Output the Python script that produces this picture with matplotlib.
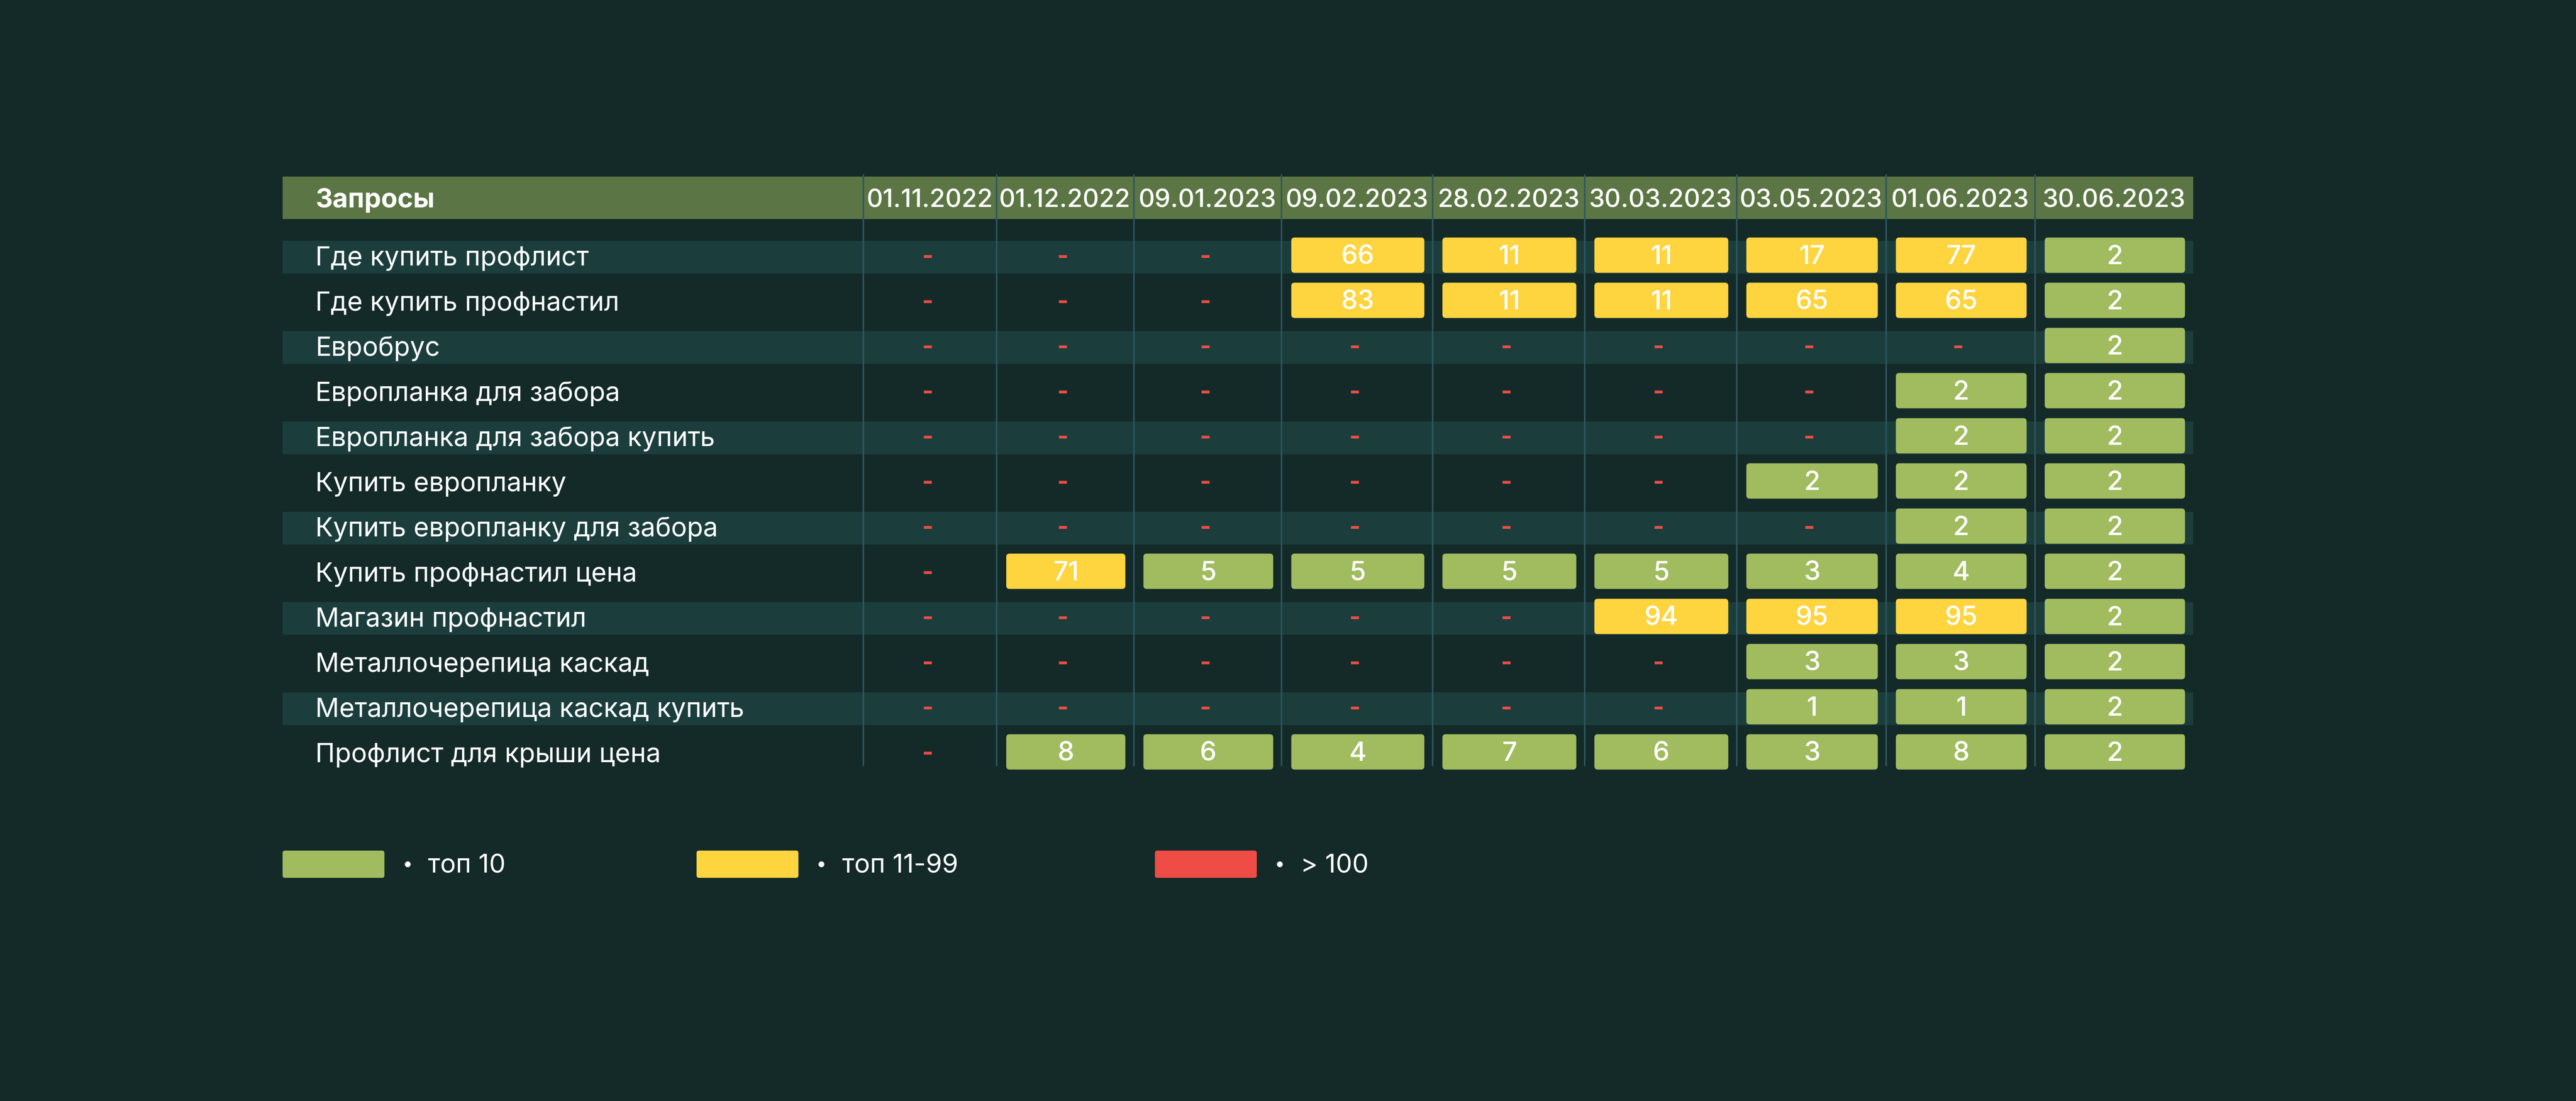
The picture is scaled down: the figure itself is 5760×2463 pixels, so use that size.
import matplotlib.pyplot as plt
from matplotlib.patches import FancyBboxPatch, Rectangle

plt.rcParams['font.family'] = ['Inter', 'DejaVu Sans']

queries = [
    "Где купить профлист",
    "Где купить профнастил",
    "Евробрус",
    "Европланка для забора",
    "Европланка для забора купить",
    "Купить европланку",
    "Купить европланку для забора",
    "Купить профнастил цена",
    "Магазин профнастил",
    "Металлочерепица каскад",
    "Металлочерепица каскад купить",
    "Профлист для крыши цена",
]
dates = ["01.11.2022", "01.12.2022", "09.01.2023", "09.02.2023", "28.02.2023",
         "30.03.2023", "03.05.2023", "01.06.2023", "30.06.2023"]
# позиции запросов по датам, None = нет в выдаче
ranks = [
    [None, None, None, 66, 11, 11, 17, 77, 2],
    [None, None, None, 83, 11, 11, 65, 65, 2],
    [None, None, None, None, None, None, None, None, 2],
    [None, None, None, None, None, None, None, 2, 2],
    [None, None, None, None, None, None, None, 2, 2],
    [None, None, None, None, None, None, 2, 2, 2],
    [None, None, None, None, None, None, None, 2, 2],
    [None, 71, 5, 5, 5, 5, 3, 4, 2],
    [None, None, None, None, None, 94, 95, 95, 2],
    [None, None, None, None, None, None, 3, 3, 2],
    [None, None, None, None, None, None, 1, 1, 2],
    [None, 8, 6, 4, 7, 6, 3, 8, 2],
]
legend_labels = ["топ 10", "топ 11-99", "> 100"]

BG = "#142a29"
HEADER = "#5b7544"
BAND = "#1b3e3d"
GREEN = "#a1bb5f"
YELLOW = "#fed43f"
RED = "#ef4c45"
LINE = "#2e5660"
legend_colors = [GREEN, YELLOW, RED]

def rank_color(r):
    if r <= 10:
        return GREEN
    if r < 100:
        return YELLOW
    return RED

# layout (in units of a 1568 x 670.5 canvas)
W, H = 1568, 670.5
left, right = 172, 1335
col_edges = [525.5, 606.5, 690, 780, 872, 964.5, 1057, 1148, 1238.6, 1335]
head_top, head_bot = 107.5, 133.5
row0, pitch = 156.6, 27.5
band_h, box_h = 20, 21.5

fig = plt.figure(figsize=(19.2, 8.21), dpi=300, facecolor=BG)
ax = fig.add_axes([0, 0, 1, 1])
ax.set_xlim(0, W)
ax.set_ylim(H, 0)
ax.axis("off")
ax.set_facecolor(BG)

# header
head_y = (head_top + head_bot) / 2 + 1.5
ax.add_patch(Rectangle((left, head_top), right - left, head_bot - head_top,
                       color=HEADER, lw=0, zorder=1))
ax.text(192, head_y, "Запросы", color="white", fontsize=14.3,
        fontweight="bold", va="center", ha="left", zorder=3)
for j, d in enumerate(dates):
    cx = (col_edges[j] + col_edges[j + 1]) / 2
    ax.text(cx, head_y, d, color="white", fontsize=13.6,
            fontweight="medium", va="center", ha="center", zorder=3)

# row bands
for i, q in enumerate(queries):
    cy = row0 + i * pitch
    if i % 2 == 0:
        ax.add_patch(Rectangle((left, cy - band_h / 2), right - left, band_h,
                               color=BAND, lw=0, zorder=1))
    ax.text(192, cy + 0.8, q, color="white", fontsize=14.2, va="center", ha="left", zorder=3)

# column separators
y_end = row0 + (len(queries) - 1) * pitch + 7
for x in col_edges[:-1]:
    ax.plot([x, x], [head_top - 1, y_end], color=LINE, lw=0.8, zorder=2)

# cells
for i, row in enumerate(ranks):
    cy = row0 + i * pitch
    for j, r in enumerate(row):
        x0, x1 = col_edges[j], col_edges[j + 1]
        cx = (x0 + x1) / 2
        if r is None:
            ax.text(cx - 1.5, cy, "-", color=RED, fontsize=13, va="center", ha="center",
                    fontweight="bold", zorder=3)
            continue
        bw = x1 - x0 - 11
        bx = x0 + 6
        ax.add_patch(FancyBboxPatch((bx, cy - 1.2 - box_h / 2), bw, box_h,
                                    boxstyle="round,pad=0,rounding_size=2",
                                    fc=rank_color(r), ec="none", zorder=2))
        ax.text(bx + bw / 2, cy, str(r), color="white", fontsize=14.2,
                fontweight="medium", va="center", ha="center", zorder=3)

# legend
leg_x = [172, 424, 703]
leg_y = 526.3
for lx, lab, c in zip(leg_x, legend_labels, legend_colors):
    ax.add_patch(FancyBboxPatch((lx, leg_y - 8.3), 62, 16.6,
                                boxstyle="round,pad=0,rounding_size=1.5",
                                fc=c, ec="none", zorder=2))
    ax.text(lx + 76, leg_y + 0.5, "•", color="white", fontsize=10, va="center",
            ha="center", zorder=3)
    ax.text(lx + 88.5, leg_y + 1.2, lab, color="white", fontsize=14, va="center",
            ha="left", zorder=3)

fig.savefig("out.png", dpi=300, facecolor=BG)
